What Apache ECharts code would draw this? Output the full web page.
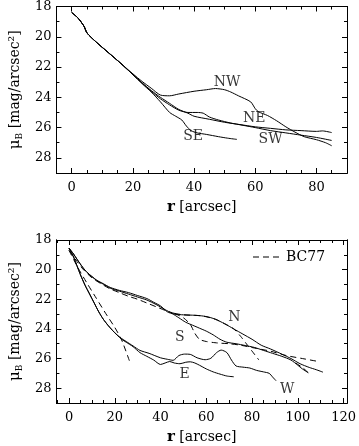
<!DOCTYPE html>
<html>
<head>
<meta charset="utf-8">
<script src="https://cdn.jsdelivr.net/npm/echarts@6/dist/echarts.min.js"></script>
<style>
  html, body { margin: 0; padding: 0; background: #fff; }
  #chart { width: 359px; height: 446px; }
</style>
</head>
<body>
<div id="chart"></div>
<script>
// ---- top panel: profiles along NW / NE / SW / SE ----
var nwProfile = [[0,18.4],[2,18.75],[4,19.3],[5,19.75],[8,20.35],[12,21.05],[16,21.75],[20,22.45],[23,22.95],[26,23.4],[29,23.85],[32,23.9],[35,23.78],[40,23.6],[44,23.5],[47,23.42],[50,23.5],[52,23.65],[54.5,23.9],[58.5,24.3],[60,24.75],[61,24.95],[64,25.2],[67,25.55],[70,25.95],[73,26.3],[76,26.6],[80,26.8],[83,27.0],[85,27.2]];
var neProfile = [[0,18.4],[2,18.75],[4,19.3],[5,19.75],[8,20.35],[12,21.05],[16,21.75],[20,22.5],[23,23.05],[26,23.55],[29,24.0],[32,24.4],[35,24.8],[38,25.05],[40,25.25],[45,25.45],[50,25.65],[55,25.8],[60,25.95],[65,26.05],[70,26.15],[75,26.2],[80,26.25],[82,26.22],[85,26.33]];
var swProfile = [[0,18.4],[2,18.75],[4,19.3],[5,19.75],[8,20.35],[12,21.05],[16,21.75],[20,22.5],[23,23.05],[26,23.6],[29,24.1],[32,24.5],[35,24.85],[38,25.0],[41,25.0],[43,25.05],[45,25.3],[48,25.5],[52,25.7],[56,25.85],[60,26.0],[65,26.2],[70,26.35],[75,26.5],[80,26.65],[85,26.85]];
var seProfile = [[0,18.4],[2,18.75],[4,19.3],[5,19.75],[8,20.35],[12,21.05],[16,21.75],[20,22.5],[23,23.1],[26,23.65],[29,24.3],[32,25.0],[34,25.25],[36,25.5],[37.5,25.9],[39,26.2],[41,26.35],[44,26.45],[48,26.6],[51,26.7],[54,26.78]];
var topTags = ['NW', 'NE', 'SE', 'SW'];
var topTagR = [50.8, 59.7, 39.7, 65];
var topTagMu = [22.98, 25.4, 26.6, 26.8];

// ---- bottom panel: profiles along N / S / E / W and BC77 fits ----
var nProfile = [[0,18.55],[2,18.95],[3.5,19.3],[6,19.85],[8,20.2],[12,20.7],[15,20.95],[18,21.2],[22,21.4],[26,21.55],[30,21.75],[34,21.95],[37,22.2],[40,22.45],[43,22.85],[46,23.0],[50,23.05],[55,23.08],[58,23.12],[61,23.2],[64,23.35],[68,23.65],[72,24.0],[76,24.35],[80,24.7],[84,25.1],[88,25.35],[93,25.7],[97,26.0],[101,26.35],[105,26.6],[108,26.75],[111,26.92]];
var sProfile = [[0,18.55],[2,18.95],[3.5,19.3],[6,19.85],[8,20.2],[12,20.72],[15,20.98],[18,21.25],[22,21.45],[26,21.65],[30,21.85],[34,22.05],[38,22.35],[42,22.7],[45,22.95],[48,23.25],[51,23.55],[54,23.75],[57,23.95],[60,24.15],[63,24.4],[66,24.7],[69,24.9],[73,25.0],[77,25.12],[81,25.25],[85,25.45],[89,25.65],[93,25.85],[97,26.1],[100,26.45],[102,26.7],[104.6,26.96]];
var wProfile = [[0,18.55],[1,18.85],[2,19.15],[3,19.55],[4,19.95],[5,20.35],[7,21.05],[9,21.65],[11,22.25],[13,22.85],[15,23.35],[17,23.75],[19,24.1],[21,24.4],[23,24.65],[25,24.85],[28,25.15],[31,25.45],[35,25.65],[40,25.95],[43,26.05],[45.5,26.12],[48,25.8],[50.5,25.7],[53,25.72],[56,25.95],[59.5,26.08],[62,25.98],[64.5,25.6],[66.5,25.43],[69,25.6],[71,26.1],[73,26.5],[76,26.58],[79,26.64],[82,26.8],[85,26.9],[87.5,27.0],[89,27.25],[90.5,27.5]];
var eProfile = [[0,18.55],[1,18.85],[2,19.15],[3,19.55],[4,19.95],[5,20.35],[7,21.05],[9,21.65],[11,22.25],[13,22.85],[15,23.35],[17,23.75],[19,24.1],[21,24.42],[23,24.7],[25,24.9],[28,25.2],[31,25.6],[34,25.85],[37,26.1],[40,26.4],[42,26.3],[44,26.2],[46,26.3],[48.5,26.35],[51,26.25],[53,26.22],[55,26.3],[57,26.45],[60,26.7],[63,26.9],[66,27.05],[69,27.18],[72,27.23]];
var bcInner = [[0,18.7],[3,19.35],[6,19.95],[10,20.55],[14,20.95],[18,21.3],[22,21.55],[26,21.8],[30,22.0],[34,22.25],[38,22.5],[42,22.75],[46,22.95]];
var bcNorth = [[46,22.95],[50,23.05],[58,23.12],[64,23.35],[68,23.65],[72,24.0],[75,24.5],[78,25.1],[80,25.5],[83,26.1]];
var bcSouth = [[46,22.95],[50,23.25],[53,23.7],[55,24.3],[57,24.7],[60,24.85],[65,24.95],[70,25.0],[75,25.1],[82,25.32],[88,25.5],[95,25.8],[102,26.0],[109,26.2]];
var bcSouthTail = [[99,26.3],[102,26.6],[104.5,26.95]];
var bcSteep = [[0,18.7],[4,19.9],[8,20.95],[12,21.95],[16,22.95],[20,23.9],[23,24.75],[26.5,26.2]];
var botTags = ['N', 'S', 'E', 'W'];
var botTagR = [72.3, 48.4, 50.5, 95.4];
var botTagMu = [23.25, 24.56, 27.07, 28.05];

// ---- tick values ----
var topXMajor = [0, 20, 40, 60, 80];
var topXMinor = [5, 10, 15, 25, 30, 35, 45, 50, 55, 65, 70, 75, 85];
var botXMajor = [0, 20, 40, 60, 80, 100, 120];
var botXMinor = [-5, 5, 10, 15, 25, 30, 35, 45, 50, 55, 65, 70, 75, 85, 90, 95, 105, 110, 115];
var muMajor = [18, 20, 22, 24, 26, 28];
var muMinor = [19, 21, 23, 25, 27];

var FONT = 'DejaVu Serif';
var INK = '#000';

function axisSet(g, dim, min, max, major, minor, name, nameGap) {
  var sides = dim === 'x' ? ['bottom', 'top'] : ['left', 'right'];
  var list = [];
  sides.forEach(function (side, s) {
    [major, minor].forEach(function (ticks, k) {
      var ax = {
        gridIndex: g, type: 'value', position: side, min: min, max: max,
        inverse: dim === 'y',
        splitLine: { show: false },
        axisLine: { show: true, onZero: false, lineStyle: { color: INK, width: 1 } },
        axisTick: { show: true, inside: true, length: k === 0 ? 5 : 3, customValues: ticks, lineStyle: { color: INK, width: 1 } },
        axisLabel: { show: false }
      };
      if (s === 0 && k === 0) {
        ax.axisLabel = {
          show: true, customValues: major, color: INK, fontFamily: FONT, fontSize: 13,
          margin: dim === 'x' ? 8 : 5
        };
        ax.name = name;
        ax.nameLocation = 'middle';
        ax.nameGap = nameGap;
        ax.nameTextStyle = {
          color: INK, fontFamily: FONT, fontSize: 14,
          rich: {
            b: { fontFamily: FONT, fontSize: 15, fontWeight: 'bold', color: INK },
            m: { fontFamily: FONT, fontSize: 15, color: INK },
            s: { fontFamily: FONT, fontSize: 9, color: INK, verticalAlign: 'bottom', padding: [8, 0, 0, 0] },
            t: { fontFamily: FONT, fontSize: 14, color: INK }
          }
        };
      }
      list.push(ax);
    });
  });
  return list;
}

var xName = '{b|r} {t|[arcsec]}';
var yName = '{m|μ}{s|B}{t| [mag/arcsec²]}';

var xAxes = axisSet(0, 'x', -5, 90, topXMajor, topXMinor, xName, 27)
  .concat(axisSet(1, 'x', -5.5, 121.5, botXMajor, botXMinor, xName, 27));
var yAxes = axisSet(0, 'y', 18, 29, muMajor, muMinor, yName, 26)
  .concat(axisSet(1, 'y', 18, 29, muMajor, muMinor, yName, 26));

function profile(name, data, g, dashed) {
  return {
    name: name, type: 'line', xAxisIndex: 4 * g, yAxisIndex: 4 * g,
    data: data, symbol: 'none', smooth: 0.25, silent: true,
    lineStyle: { color: INK, width: 1, type: dashed ? [6, 4] : 'solid' },
    itemStyle: { color: INK }
  };
}

function tags(names, rs, mus, g) {
  return {
    type: 'scatter', xAxisIndex: 4 * g, yAxisIndex: 4 * g, silent: true,
    symbolSize: 1, itemStyle: { color: 'rgba(0,0,0,0)' },
    data: names.map(function (n, i) { return { name: n, value: [rs[i], mus[i]] }; }),
    label: { show: true, position: 'inside', formatter: '{b}', color: INK, fontFamily: FONT, fontSize: 14 }
  };
}

var chart = echarts.init(document.getElementById('chart'));
chart.setOption({
  animation: false,
  backgroundColor: '#fff',
  grid: [
    { left: 45, top: 6, width: 302, height: 167 },
    { left: 45, top: 240, width: 302, height: 168 }
  ],
  legend: {
    data: [{ name: 'BC77', icon: 'path://M0 0h6v1H0zM10 0h6v1h-6zM20 0h6v1h-6z' }],
    left: 253, top: 250, itemWidth: 26, itemHeight: 1, itemGap: 0, padding: 0,
    selectedMode: false,
    itemStyle: { color: INK },
    textStyle: { color: INK, fontFamily: FONT, fontSize: 14, padding: [0, 0, 0, 2] }
  },
  xAxis: xAxes,
  yAxis: yAxes,
  series: [
    profile('NW', nwProfile, 0, false),
    profile('NE', neProfile, 0, false),
    profile('SW', swProfile, 0, false),
    profile('SE', seProfile, 0, false),
    tags(topTags, topTagR, topTagMu, 0),
    profile('N', nProfile, 1, false),
    profile('S', sProfile, 1, false),
    profile('W', wProfile, 1, false),
    profile('E', eProfile, 1, false),
    profile('BC77', bcInner, 1, true),
    profile('BC77', bcNorth, 1, true),
    profile('BC77', bcSouth, 1, true),
    profile('BC77', bcSouthTail, 1, true),
    profile('BC77', bcSteep, 1, true),
    tags(botTags, botTagR, botTagMu, 1)
  ]
});
</script>
</body>
</html>
